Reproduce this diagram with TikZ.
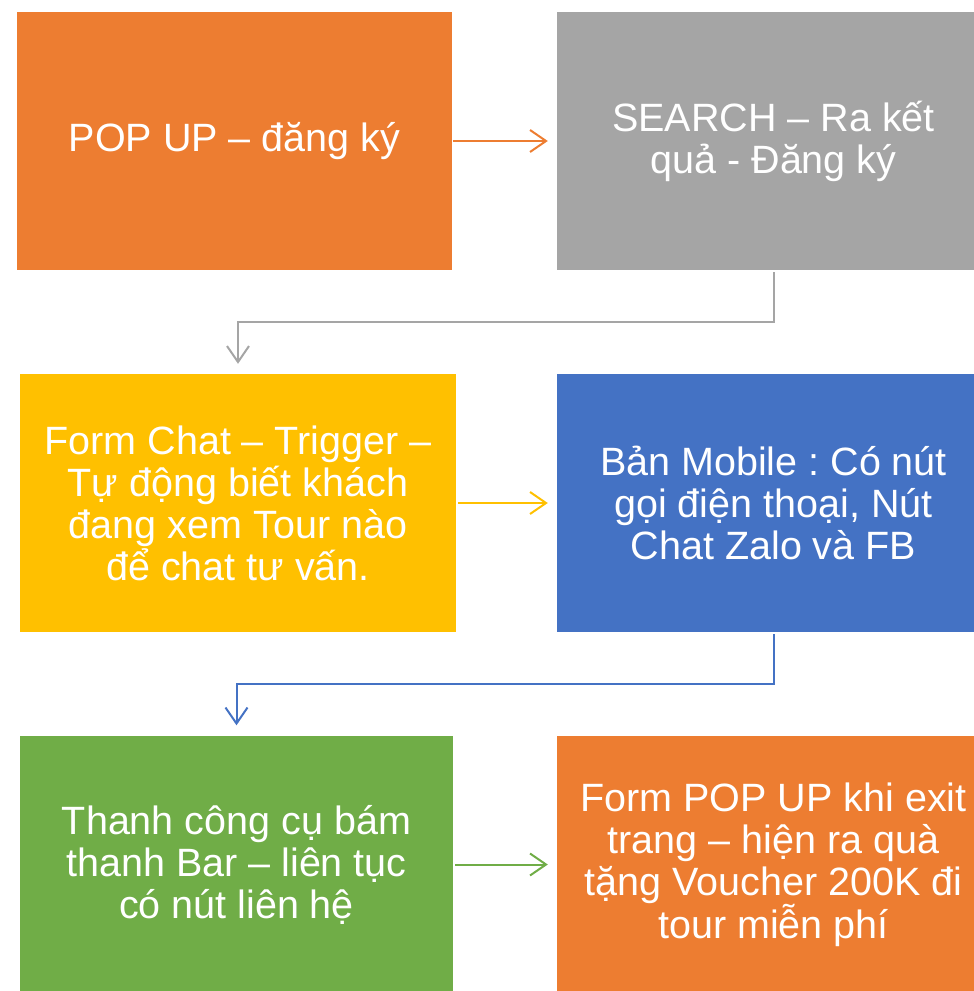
\documentclass[tikz,border=0pt]{standalone}
\usepackage{fontspec}
\setmainfont{Liberation Sans}
\usetikzlibrary{arrows.meta}
\definecolor{popOrange}{HTML}{ED7D31}
\definecolor{popGray}{HTML}{A5A5A5}
\definecolor{popYellow}{HTML}{FFC000}
\definecolor{popBlue}{HTML}{4472C4}
\definecolor{popGreen}{HTML}{70AD47}
\frenchspacing
\begin{document}
\begin{tikzpicture}[x=1pt,y=-1pt,
    box/.style={shape=rectangle,minimum width=433pt,minimum height=258pt,inner sep=0pt,
        align=center,text=white,font=\fontsize{39.5}{42}\selectfont},
    link/.style={line width=2pt,-{Straight Barb[length=16pt,width=22pt,line width=2pt]}}]
            \useasboundingbox (0,0) rectangle (974,991);
            \clip (0,0) rectangle (974,991);

            \node[box,fill=popOrange,minimum width=435pt] (A) at (234.5,141) {POP UP -- đăng ký};
            \node[box,fill=popGray] (B) at (773.5,141) {SEARCH -- Ra kết\\quả - Đăng ký};
            \node[box,fill=popYellow,minimum width=436pt] (C) at (238,503) {Form Chat -- Trigger --\\Tự động biết khách\\đang xem Tour nào\\để chat tư vấn.};
            \node[box,fill=popBlue] (D) at (773.5,503) {Bản Mobile : Có nút\\gọi điện thoại, Nút\\Chat Zalo và FB};
            \node[box,fill=popGreen] (E) at (236.5,864.5) {Thanh công cụ bám\\thanh Bar -- liên tục\\có nút liên hệ};
            \node[box,fill=popOrange] (F) at (773.5,864.5) {Form POP UP khi exit\\trang -- hiện ra quà\\tặng Voucher 200K đi\\tour miễn phí};

            \draw [link,draw=popOrange,shorten <=1pt,shorten >=9pt] (A) -- (B);
            \draw [link,draw=popGray,shorten <=2pt,shorten >=10pt] (B.south) -- ++(0,52) -| (C.north);
            \draw [link,draw=popYellow,shorten <=2pt,shorten >=9pt] (C) -- (D);
            \draw [link,draw=popBlue,shorten <=2pt,shorten >=10pt] (D.south) -- ++(0,52) -| (E.north);
            \draw [link,draw=popGreen,shorten <=2pt,shorten >=9pt] (E) -- (F);
        \end{tikzpicture}
\end{document}
